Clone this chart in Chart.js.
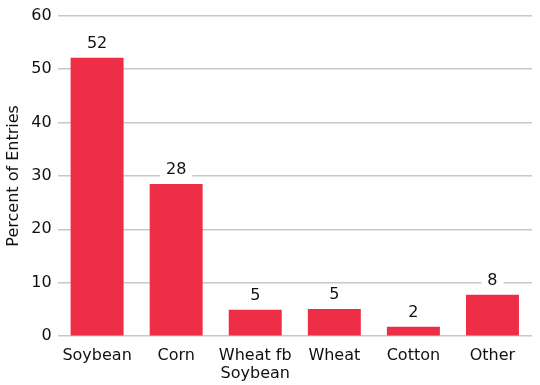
<!DOCTYPE html>
<html>
<head>
<meta charset="utf-8">
<script src="https://cdn.jsdelivr.net/npm/chart.js@4.4.0/dist/chart.umd.min.js"></script>
<style>
  html, body { margin: 0; padding: 0; background: #fff; }
  #wrap { width: 540px; height: 385px; }
</style>
</head>
<body>
<div id="wrap"><canvas id="myChart"></canvas></div>
<script>
// crops and share of entries (percent)
const crops = ["Soybean", "Corn", ["Wheat fb", "Soybean"], "Wheat", "Cotton", "Other"];
const percents = [52.1, 28.5, 4.95, 5.1, 1.75, 7.75];
const shownLabels = ["52", "28", "5", "5", "2", "8"];
const yTicks = [0, 10, 20, 30, 40, 50, 60];

const fontFamily = "'DejaVu Sans', sans-serif";

// draws the number above each bar on a white box, so the grid line is hidden behind it
const valueLabels = {
  id: 'valueLabels',
  afterDatasetsDraw(chart) {
    const ctx = chart.ctx;
    const meta = chart.getDatasetMeta(0);
    ctx.save();
    ctx.font = "16px " + fontFamily;
    ctx.textAlign = 'center';
    ctx.textBaseline = 'middle';
    meta.data.forEach((bar, i) => {
      const txt = shownLabels[i];
      const w = ctx.measureText(txt).width;
      const y = bar.y - 15;
      ctx.fillStyle = '#fff';
      ctx.fillRect(bar.x - w / 2 - 6, y - 9, w + 12, 18);
      ctx.fillStyle = '#111';
      ctx.fillText(txt, bar.x, y + 1);
    });
    ctx.restore();
  }
};

const ctx = document.getElementById('myChart').getContext('2d');
const myChart = new Chart(ctx, {
  type: 'bar',
  data: {
    labels: crops,
    datasets: [{
      data: percents,
      backgroundColor: '#ee2d47',
      categoryPercentage: 0.67,
      barPercentage: 1.0
    }]
  },
  options: {
    responsive: true,
    maintainAspectRatio: false,
    animation: false,
    layout: { padding: { top: 2, right: 8, left: 4, bottom: 0 } },
    plugins: {
      legend: { display: false },
      tooltip: { enabled: false }
    },
    scales: {
      x: {
        grid: { display: false },
        border: { display: false },
        ticks: {
          color: '#111',
          font: { family: fontFamily, size: 16, lineHeight: 1.15 },
          padding: 2,
          maxRotation: 0,
          autoSkip: false
        }
      },
      y: {
        min: 0,
        max: 60,
        afterBuildTicks(axis) { axis.ticks = yTicks.map(v => ({ value: v })); },
        grid: { color: '#c8c8c8', lineWidth: 1.5, drawTicks: false },
        border: { display: false },
        ticks: {
          color: '#111',
          font: { family: fontFamily, size: 16 },
          padding: 6
        },
        title: {
          display: true,
          text: 'Percent of Entries',
          color: '#111',
          font: { family: fontFamily, size: 16 },
          padding: { top: 0, bottom: 2 }
        }
      }
    }
  },
  plugins: [valueLabels]
});
</script>
</body>
</html>
